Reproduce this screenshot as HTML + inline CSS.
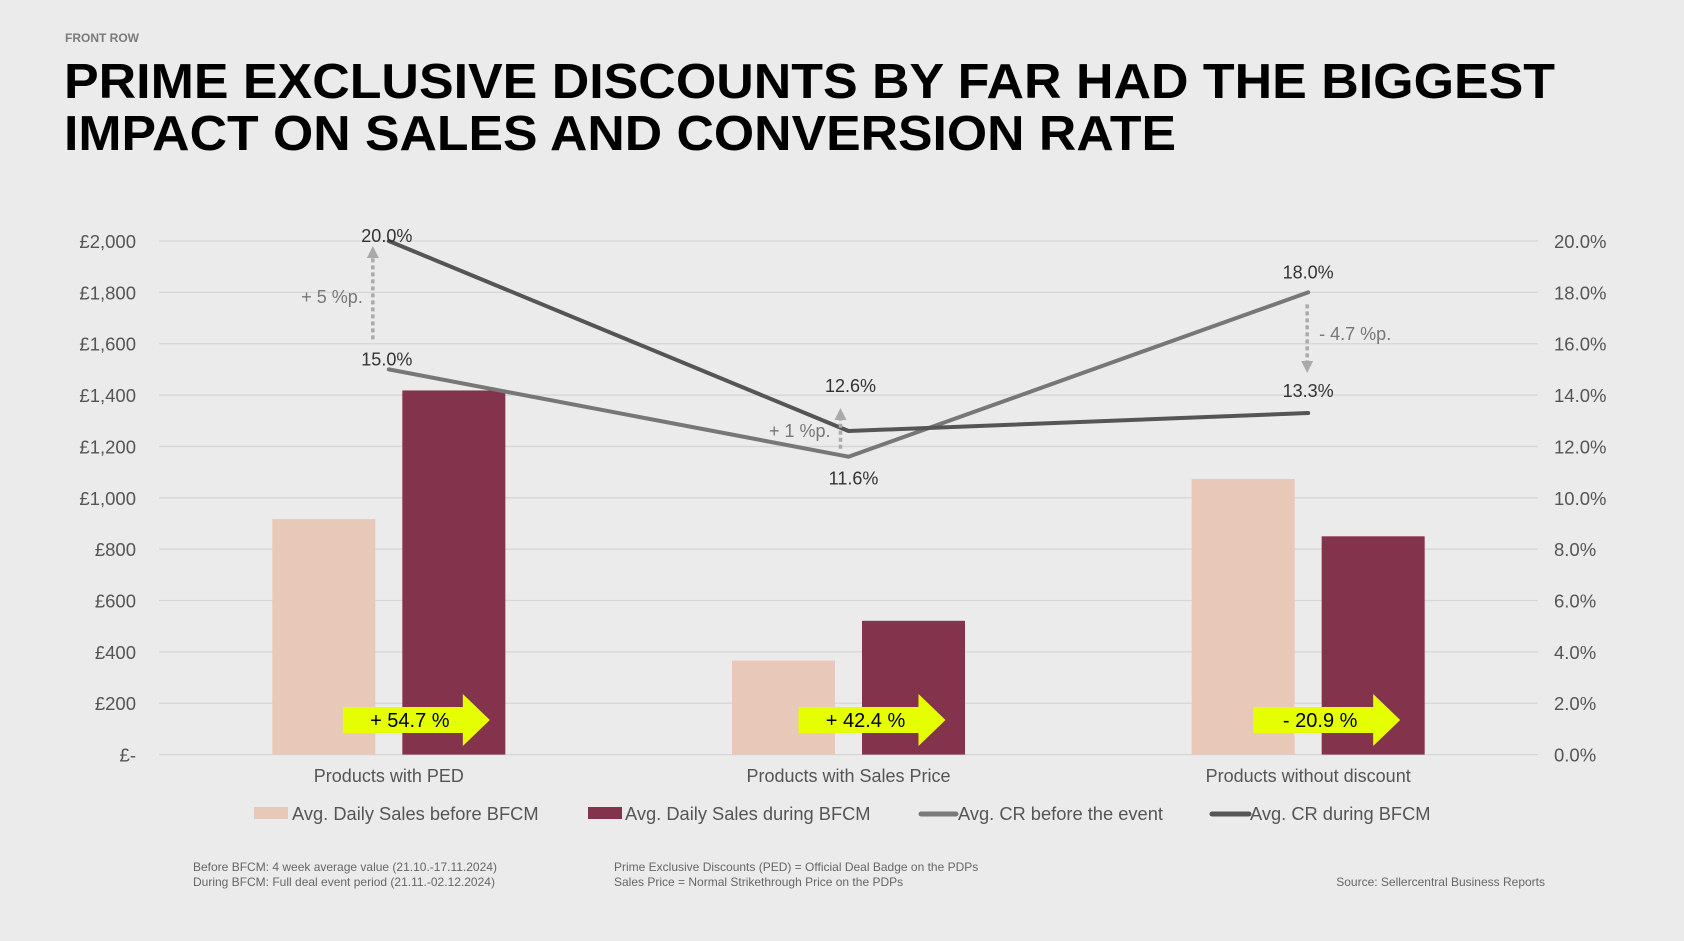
<!DOCTYPE html>
<html><head><meta charset="utf-8"><style>
html,body{margin:0;padding:0;background:#EBEBEB;}
svg{display:block;font-family:"Liberation Sans",Arial,sans-serif;}
</style></head><body>
<svg id="chart" width="1684" height="941" viewBox="0 0 1684 941" xmlns="http://www.w3.org/2000/svg">
<rect width="1684" height="941" fill="#EBEBEB"/>
<text x="65" y="42" font-size="12" font-weight="bold" fill="#7a7a7a">FRONT ROW</text>
<text x="64" y="98" font-size="49" font-weight="bold" fill="#000" textLength="1491" lengthAdjust="spacingAndGlyphs">PRIME EXCLUSIVE DISCOUNTS BY FAR HAD THE BIGGEST</text>
<text x="64" y="150" font-size="49" font-weight="bold" fill="#000" textLength="1112" lengthAdjust="spacingAndGlyphs">IMPACT ON SALES AND CONVERSION RATE</text>
<g id="grid"></g><g id="bars"></g><g id="lines"></g><g id="labels"></g>
<g font-size="18.3" fill="#555">
<rect x="254" y="807" width="34" height="12" fill="#E8C8B8"/>
<text x="292" y="820">Avg. Daily Sales before BFCM</text>
<rect x="588" y="807" width="34" height="12" fill="#84334C"/>
<text x="625" y="820">Avg. Daily Sales during BFCM</text>
<line x1="921" y1="814" x2="956" y2="814" stroke="#7a7a7a" stroke-width="5" stroke-linecap="round"/>
<text x="958" y="820">Avg. CR before the event</text>
<line x1="1212" y1="814" x2="1249" y2="814" stroke="#555" stroke-width="5" stroke-linecap="round"/>
<text x="1250" y="820">Avg. CR during BFCM</text>
</g>
<g font-size="12" fill="#666">
<text x="193" y="871">Before BFCM: 4 week average value (21.10.-17.11.2024)</text>
<text x="193" y="886">During BFCM: Full deal event period (21.11.-02.12.2024)</text>
<text x="614" y="871">Prime Exclusive Discounts (PED) = Official Deal Badge on the PDPs</text>
<text x="614" y="886">Sales Price = Normal Strikethrough Price on the PDPs</text>
<text x="1545" y="886" text-anchor="end">Source: Sellercentral Business Reports</text>
</g>
</svg>
<script>
const categories = ["Products with PED", "Products with Sales Price", "Products without discount"];
const salesBefore = [917, 366, 1073];
const salesDuring = [1418, 521, 850];
const crBefore = [15.0, 11.6, 18.0];
const crDuring = [20.0, 12.6, 13.3];
const salesChange = ["+ 54.7 %", "+ 42.4 %", "- 20.9 %"];
const crDeltaLabels = ["+ 5 %p.", "+ 1 %p.", "- 4.7 %p."];
const leftTicks = [0, 200, 400, 600, 800, 1000, 1200, 1400, 1600, 1800, 2000];
const leftTickLabels = ["£-", "£200", "£400", "£600", "£800", "£1,000", "£1,200", "£1,400", "£1,600", "£1,800", "£2,000"];
const rightTickLabels = ["0.0%", "2.0%", "4.0%", "6.0%", "8.0%", "10.0%", "12.0%", "14.0%", "16.0%", "18.0%", "20.0%"];

const NS = "http://www.w3.org/2000/svg";
const X0 = 159, X1 = 1538, Y0 = 754.6, Y1 = 241;
const yS = v => Y0 - (v / 2000) * (Y0 - Y1);
const yP = v => Y0 - (v / 20) * (Y0 - Y1);
const band = (X1 - X0) / categories.length;
const xC = i => X0 + band * (i + 0.5);
const arrowShift = [4, 0, -5];
function mk(tag, attrs, parent, txt) {
  const e = document.createElementNS(NS, tag);
  for (const k in attrs) e.setAttribute(k, attrs[k]);
  if (txt !== undefined) e.textContent = txt;
  document.getElementById(parent).appendChild(e);
  return e;
}
leftTicks.forEach((t, i) => {
  const y = yS(t);
  let g = mk("line", {x1: X0, x2: X1, y1: y, y2: y, stroke: "#d6d6d6", "stroke-width": 1.3}, "grid");
  
  
  let l = mk("text", {x: 136, y: y + 7, "text-anchor": "end", "font-size": 18.5, fill: "#555"}, "grid", leftTickLabels[i]);
  
  
  let r = mk("text", {x: 1554, y: y + 7, "font-size": 18.5, fill: "#555"}, "grid", rightTickLabels[i]);
  
  
});
const BW = 103, OFF = 65;
categories.forEach((c, i) => {
  const cx = xC(i);
  let b1 = mk("rect", {x: cx - OFF - BW / 2, y: yS(salesBefore[i]), width: BW, height: Y0 - yS(salesBefore[i]), fill: "#E8C8B8"}, "bars");
  
  
  let b2 = mk("rect", {x: cx + OFF - BW / 2, y: yS(salesDuring[i]), width: BW, height: Y0 - yS(salesDuring[i]), fill: "#84334C"}, "bars");
  
  
  let cl = mk("text", {x: cx, y: 782, "text-anchor": "middle", "font-size": 18, fill: "#555"}, "labels", c);
  
  
  const ay = 720, ax = cx + arrowShift[i];
  let ar = mk("polygon", {points: `${ax-50},${ay-13} ${ax+70},${ay-13} ${ax+70},${ay-26} ${ax+97},${ay} ${ax+70},${ay+26} ${ax+70},${ay+13} ${ax-50},${ay+13}`, fill: "#E6FF00"}, "labels");
  
  
  let at = mk("text", {x: ax + 17, y: ay + 7, "text-anchor": "middle", "font-size": 20, fill: "#000"}, "labels", salesChange[i]);
  
  
});
function drawLine(vals, color, name) {
  const pts = vals.map((v, i) => `${xC(i)},${yP(v)}`).join(" ");
  let p = mk("polyline", {points: pts, fill: "none", stroke: color, "stroke-width": 4, "stroke-linecap": "round", "stroke-linejoin": "round"}, "lines");
  
  
}
drawLine(crBefore, "#777", "line-cr-before");
drawLine(crDuring, "#555", "line-cr-during");
function val(x, y, v) {
  let t = mk("text", {x: x, y: y, "text-anchor": "middle", "font-size": 18, fill: "#333"}, "labels", v.toFixed(1) + "%");
  
  
}
categories.forEach((c, i) => {
  const cx = xC(i), hi = Math.max(crBefore[i], crDuring[i]), lo = Math.min(crBefore[i], crDuring[i]);
  if (i === 0) { val(cx - 2, yP(hi) + 1, hi); val(cx - 2, yP(lo) - 4, lo); }
  else if (i === 1) { val(cx + 2, yP(hi) - 39, hi); val(cx + 5, yP(lo) + 28, lo); }
  else { val(cx, yP(hi) - 14, hi); val(cx, yP(lo) - 16, lo); }
  const up = crDuring[i] > crBefore[i];
  const ax = i === 0 ? cx - 16 : (i === 1 ? cx - 8 : cx - 1);
  let yA, yB;
  if (i === 0) { yA = yP(crBefore[i]) - 30; yB = yP(crDuring[i]) + 5; }
  else if (i === 1) { yA = yP(crBefore[i]) - 8; yB = yP(crDuring[i]) - 23; }
  else { yA = yP(crBefore[i]) + 12; yB = yP(crDuring[i]) - 40; }
  const tip = yB, base = up ? tip + 12 : tip - 12;
  let dl = mk("line", {x1: ax, x2: ax, y1: yA, y2: base, stroke: "#aaa", "stroke-width": 3.5, "stroke-dasharray": "4,3"}, "labels");
  
  
  let hd = mk("polygon", {points: `${ax-6},${base} ${ax+6},${base} ${ax},${tip}`, fill: "#aaa"}, "labels");
  
  
  const tx = i === 2 ? ax + 12 : ax - 10;
  const ty = i === 0 ? 303 : (i === 1 ? 437 : 340);
  let dt = mk("text", {x: tx, y: ty, "text-anchor": i === 2 ? "start" : "end", "font-size": 18, fill: "#777"}, "labels", crDeltaLabels[i]);
  
  
});
</script>
</body></html>
